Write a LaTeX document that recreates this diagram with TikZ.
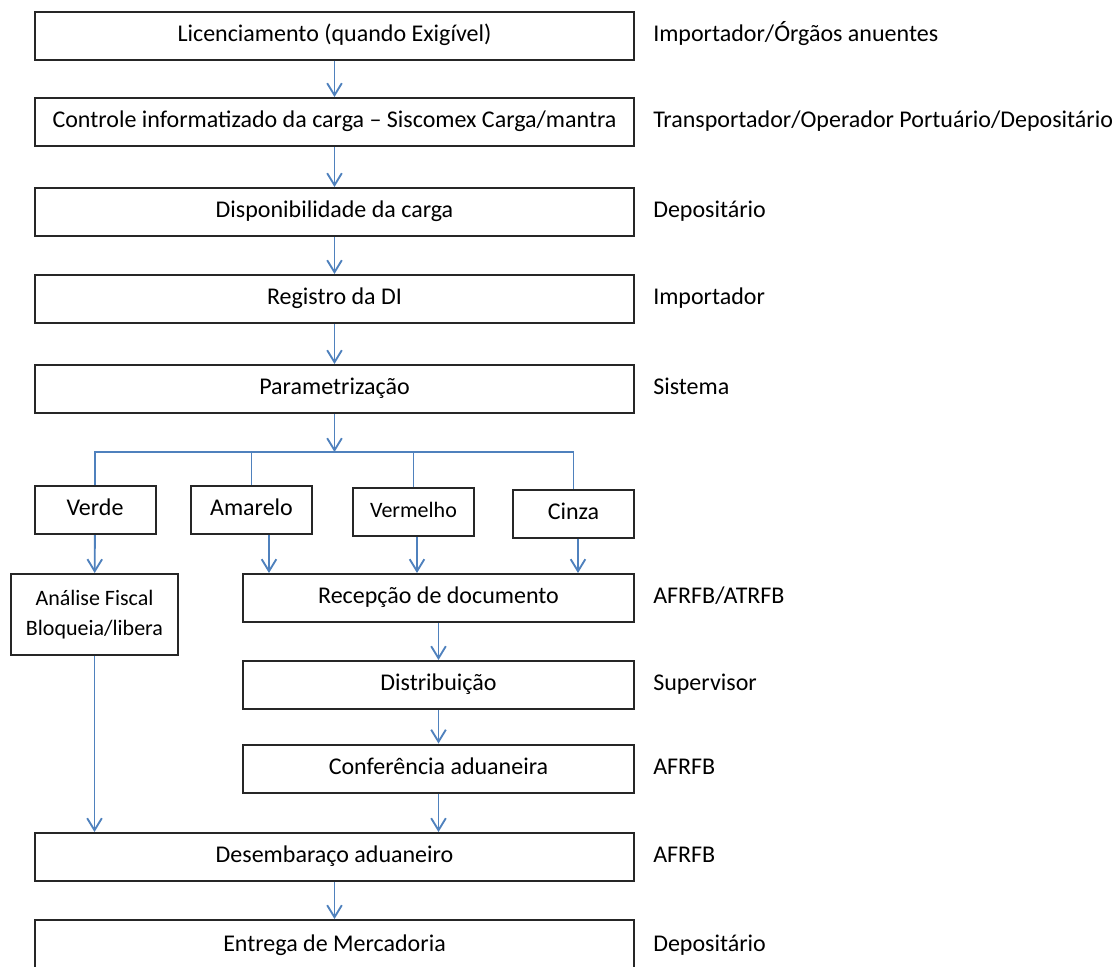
\documentclass[tikz,border=0pt]{standalone}
\usepackage{fontspec}
\setmainfont{Carlito}
\usetikzlibrary{positioning, arrows.meta, calc}
\definecolor{flowblue}{RGB}{79,129,189}
\definecolor{boxline}{RGB}{38,38,38}

\begin{document}
\begin{tikzpicture}[
  x=0.75pt, y=-0.75pt,
  >={Straight Barb[length=9pt, width=11pt]},
  every node/.style={font=\fontsize{18}{22.5}\selectfont},
  txt/.style   = {text height=12.5pt, text depth=4pt},
  box/.style   = {draw=boxline, line width=1.5pt, inner sep=0pt, align=center, minimum height=36pt},
  wide/.style  = {box, txt, minimum width=449.25pt},
  half/.style  = {box, txt, minimum width=293.25pt},
  tag/.style   = {box, txt, minimum width=90.75pt},
  small/.style = {font=\fontsize{16.5}{22.5}\selectfont},
  role/.style  = {txt, inner sep=0pt, right=13.5pt of #1},
  arr/.style   = {->, flowblue, line width=1.4pt},
  wire/.style  = {flowblue, line width=1.4pt},
]
  \useasboundingbox (0,0) rectangle (1117,967);

  % main chain
  \node[wide] (lic)  at (334.5, 35.5) {Licenciamento (quando Exigível)};
  \node[wide] (ctrl) at (334.5, 122)  {Controle informatizado da carga – Siscomex Carga/mantra};
  \node[wide] (disp) at (334.5, 212)  {Disponibilidade da carga};
  \node[wide] (reg)  at (334.5, 299)  {Registro da DI};
  \node[wide] (par)  at (334.5, 389)  {Parametrização};

  % channels
  \node[tag]        (verde) at (95, 510)      {Verde};
  \node[tag]        (amar)  at (251.5, 510)   {Amarelo};
  \node[tag, small] (verm)  at (413.5, 512)   {Vermelho};
  \node[tag]        (cinza) at (573.5, 513.5) {Cinza};

  \node[box, small, minimum width=125.25pt, minimum height=60.75pt] (anal) at (94.5, 614.5) {Análise Fiscal\\Bloqueia/libera};
  \node[half] (recep) at (438.5, 598)   {Recepção de documento};
  \node[half] (dist)  at (438.5, 685)   {Distribuição};
  \node[half] (conf)  at (438.5, 768.5) {Conferência aduaneira};

  \node[wide] (desemb)  at (334.5, 857) {Desembaraço aduaneiro};
  \node[wide, minimum height=39pt] (entrega) at (334.5, 946) {Entrega de Mercadoria};

  % who does it
  \node[role=lic]     (rlic)   {Importador/Órgãos anuentes};
  \node[role=ctrl]    (rctrl)  {Transportador/Operador Portuário/Depositário};
  \node[role=disp]    (rdisp)  {Depositário};
  \node[role=reg]     (rreg)   {Importador};
  \node[role=par]     (rpar)   {Sistema};
  \node[role=recep]   (rrecep) {AFRFB/ATRFB};
  \node[role=dist]    (rdist)  {Supervisor};
  \node[role=conf]    (rconf)  {AFRFB};
  \node[role=desemb]  (rdesemb){AFRFB};
  \node[role=entrega] (rentr)  {Depositário};

  \foreach \a/\b in {lic/ctrl, ctrl/disp, disp/reg, reg/par, recep/dist, dist/conf, desemb/entrega}
     \draw[arr] (\a) -- (\b);

  % split into the four channels
  \coordinate (split) at (334.5, 452);
  \draw[arr] (par) -- (split);
  \draw[wire] (verde.north) -- (verde.north |- split) -- (cinza.north |- split) -- (cinza.north);
  \foreach \c in {amar, verm}
     \draw[wire] (\c.north) -- (\c.north |- split);

  \draw[arr] (verde) -- (anal);
  \foreach \c/\x in {amar/269, verm/417, cinza/578}
     \draw[arr] (\c.south -| \x,0) -- (recep.north -| \x,0);
  \draw[arr] (anal.south) -- (anal.south |- desemb.north);
  \draw[arr] (conf.south) -- (conf.south |- desemb.north);
\end{tikzpicture}
\end{document}
